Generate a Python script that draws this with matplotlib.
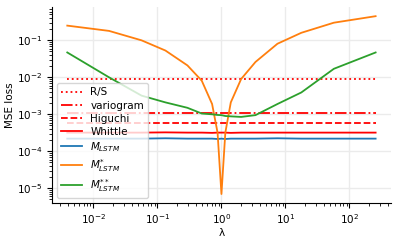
import matplotlib
matplotlib.use("Agg")
import matplotlib.pyplot as plt
import numpy as np

# lambda values (symmetric in log scale around 1)
lam = [1/256, 1/57, 1/17.7, 1/7.5, 1/3.4, 1/2.03, 1/1.4, 1/1.15, 1.0,
       1.15, 1.4, 2.03, 3.4, 7.5, 17.7, 57, 256]

rs        = [8.9e-3] * 17
variogram = [1.07e-3] * 17
higuchi   = [5.9e-4] * 17
whittle   = [3.2e-4, 3.2e-4, 3.2e-4, 3.25e-4, 3.2e-4, 3.2e-4, 3.15e-4, 3.2e-4, 3.2e-4,
             3.2e-4, 3.15e-4, 3.2e-4, 3.2e-4, 3.2e-4, 3.2e-4, 3.2e-4, 3.2e-4]
m_lstm    = [2.2e-4, 2.2e-4, 2.2e-4, 2.25e-4, 2.2e-4, 2.2e-4, 2.2e-4, 2.15e-4, 2.2e-4,
             2.15e-4, 2.2e-4, 2.2e-4, 2.2e-4, 2.25e-4, 2.2e-4, 2.2e-4, 2.2e-4]
m_star    = [0.25, 0.18, 0.10, 0.053, 0.021, 8.1e-3, 1.9e-3, 3.2e-4, 7e-6,
             3.2e-4, 2.1e-3, 9e-3, 0.026, 0.081, 0.16, 0.30, 0.45]
m_2star   = [0.047, 0.01, 3.2e-3, 2.1e-3, 1.5e-3, 1.05e-3, 1.0e-3, 9.6e-4, 9.5e-4,
             9.0e-4, 8.8e-4, 8.5e-4, 9.5e-4, 1.9e-3, 3.9e-3, 0.017, 0.047]

fig, ax = plt.subplots(figsize=(3.99, 2.43), dpi=100)
fig.subplots_adjust(left=0.13, right=0.98, top=0.97, bottom=0.165)

fs = 7.5
ax.plot(lam, rs, color="red", linestyle=":", lw=1.3, label="R/S")
ax.plot(lam, variogram, color="red", linestyle="-.", lw=1.3, label="variogram")
ax.plot(lam, higuchi, color="red", linestyle="--", lw=1.3, label="Higuchi")
ax.plot(lam, whittle, color="red", linestyle="-", lw=1.3, label="Whittle")
ax.plot(lam, m_lstm, color="tab:blue", lw=1.3, label="$M_{LSTM}$")
ax.plot(lam, m_star, color="tab:orange", lw=1.3, label="$M^{*}_{LSTM}$")
ax.plot(lam, m_2star, color="tab:green", lw=1.3, label="$M^{**}_{LSTM}$")

ax.set_xscale("log")
ax.set_yscale("log")
ax.grid(True, which="major", color="#ebebeb", lw=1)
ax.set_axisbelow(True)
for s in ["top", "right"]:
    ax.spines[s].set_visible(False)
ax.tick_params(labelsize=fs)
ax.set_xlabel("λ", fontsize=fs, labelpad=1)
ax.set_ylabel("MSE loss", fontsize=fs, labelpad=1)
ax.legend(loc="lower left", fontsize=fs, labelspacing=0.3)

plt.savefig("out.png", dpi=100)
